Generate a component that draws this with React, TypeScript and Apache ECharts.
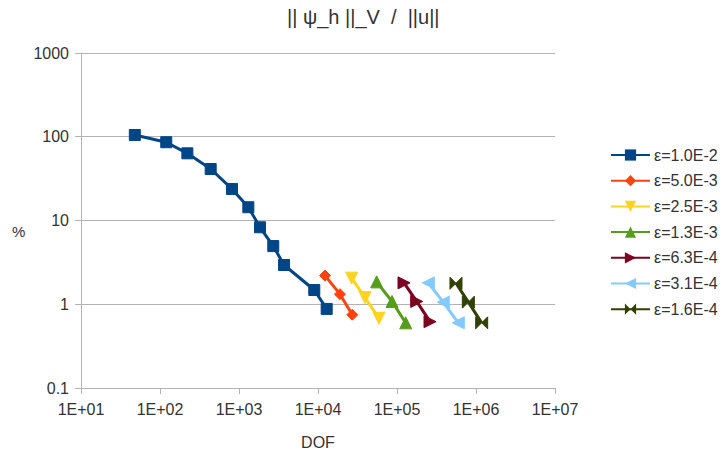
import React, { useEffect, useRef } from "react";
import * as echarts from "echarts";

const seriesNames = ["ε=1.0E-2", "ε=5.0E-3", "ε=2.5E-3", "ε=1.3E-3", "ε=6.3E-4", "ε=3.1E-4", "ε=1.6E-4"];
const colors = ["#004586", "#ff420e", "#ffd320", "#579d1c", "#7e0021", "#83caff", "#314004"];

const dof1 = [48, 120, 222, 438, 815, 1313, 1845, 2716, 3715, 8975, 12880];
const err1 = [105, 86, 63.4, 41.2, 23.8, 14.4, 8.3, 4.95, 2.94, 1.48, 0.88];
const dof2 = [12280, 18970, 27180];
const err2 = [2.2, 1.32, 0.75];
const dof3 = [26700, 39400, 59100];
const err3 = [2.05, 1.2, 0.68];
const dof4 = [55300, 86500, 128900];
const err4 = [1.85, 1.08, 0.6];
const dof5 = [122700, 177400, 261800];
const err5 = [1.8, 1.08, 0.62];
const dof6 = [249000, 385000, 597000];
const err6 = [1.8, 1.06, 0.6];
const dof7 = [558000, 800000, 1180000];
const err7 = [1.78, 1.06, 0.6];

const xTicks = ["1E+01", "1E+02", "1E+03", "1E+04", "1E+05", "1E+06", "1E+07"];

const allDof = [dof1, dof2, dof3, dof4, dof5, dof6, dof7];
const allErr = [err1, err2, err3, err4, err5, err6, err7];
const symbols = [
  "rect",
  "diamond",
  "path://M0,0L10,0L5,10Z",
  "path://M5,0L10,10L0,10Z",
  "path://M0,0L10,5L0,10Z",
  "path://M10,0L0,5L10,10Z",
  "path://M0,0L10,5L0,10ZM20,0L10,5L20,10Z",
];
const symbolSizes = [11, 11, 12, 12, 12, 12, [12, 12]];

export default function App() {
  const ref = useRef<HTMLDivElement>(null);
  useEffect(() => {
    if (!ref.current) return;
    const chart = echarts.init(ref.current, null, { renderer: "svg" });
    const font = "'Liberation Sans', Arial, sans-serif";
    chart.setOption({
      animation: false,
      backgroundColor: "#ffffff",
      textStyle: { fontFamily: font },
      title: {
        text: "|| ψ_h ||_V  /  ||u||",
        left: 282,
        top: 2,
        textStyle: { fontFamily: font, fontSize: 20, fontWeight: "normal", color: "#333333" },
      },
      graphic: [
        {
          type: "text",
          left: 12,
          top: 224,
          style: { text: "%", font: "15px 'Liberation Sans', Arial, sans-serif", fill: "#333333" },
        },
      ],
      legend: {
        orient: "vertical",
        left: 605,
        top: 142,
        itemWidth: 39,
        itemHeight: 14,
        itemGap: 9.7,
        textStyle: { fontFamily: font, fontSize: 16, lineHeight: 15, color: "#333333", padding: [0, 0, 0, -1] },
        data: seriesNames,
      },
      grid: { left: 81, right: 172, top: 53, bottom: 69, containLabel: false },
      xAxis: {
        type: "log",
        logBase: 10,
        min: 10,
        max: 1e7,
        name: "DOF",
        nameLocation: "middle",
        nameGap: 46,
        nameTextStyle: { fontFamily: font, fontSize: 16, color: "#333333", verticalAlign: "top" },
        axisLine: { show: true, lineStyle: { color: "#b3b3b3", width: 1 } },
        axisTick: { show: true, length: 6, lineStyle: { color: "#b3b3b3" } },
        axisLabel: {
          fontFamily: font,
          fontSize: 16,
          color: "#333333",
          margin: 13,
          formatter: (v: number) => xTicks[Math.round(Math.log10(v)) - 1] ?? "",
        },
        splitLine: { show: false },
        minorTick: { show: false },
      },
      yAxis: {
        type: "log",
        logBase: 10,
        min: 0.1,
        max: 1000,
        axisLine: { show: true, lineStyle: { color: "#b3b3b3", width: 1 } },
        axisTick: { show: true, length: 6, lineStyle: { color: "#b3b3b3" } },
        axisLabel: {
          fontFamily: font,
          fontSize: 16,
          color: "#333333",
          margin: 12,
          formatter: (v: number) => {
            const e = Math.round(Math.log10(v));
            return e < 0 ? "0.1" : String(Math.pow(10, e));
          },
        },
        splitLine: { show: true, lineStyle: { color: "#b3b3b3", width: 1 } },
      },
      series: seriesNames.map((name, i) => ({
        name,
        type: "line",
        data: allDof[i].map((d, j) => [d, allErr[i][j]]),
        symbol: symbols[i],
        symbolSize: symbolSizes[i],
        showAllSymbol: true,
        lineStyle: { color: colors[i], width: 3 },
        itemStyle: { color: colors[i], borderColor: colors[i] },
        emphasis: { disabled: true },
      })),
    });
    return () => chart.dispose();
  }, []);
  return (
    <div
      ref={ref}
      style={{ position: "fixed", left: 0, top: 0, width: 727, height: 457 }}
    />
  );
}
